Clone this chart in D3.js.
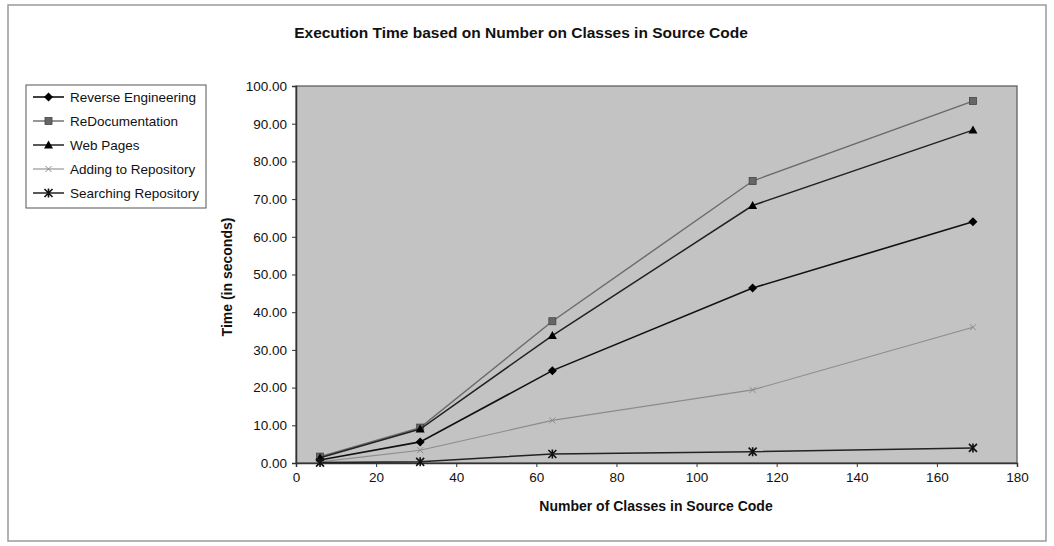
<!DOCTYPE html>
<html>
<head>
  <meta charset="utf-8">
  <title>Execution Time based on Number on Classes in Source Code</title>
  <script src="https://d3js.org/d3.v7.min.js"></script>
  <style>
    body { margin: 0; background: #fff; }
    text { font-family: "Liberation Sans", Arial, sans-serif; fill: #111; }
    .tick text { font-size: 13.5px; }
    .title { font-size: 15.5px; font-weight: bold; }
    .axis-title { font-size: 14px; font-weight: bold; }
    .legend text { font-size: 13.5px; }
  </style>
</head>
<body>
  <svg id="chart" width="1054" height="546"></svg>
  <script>
    // data
    const classes = [6, 31, 64, 114, 169];
    const reverseEngineering = [0.8, 5.6, 24.5, 46.4, 64.0];
    const reDocumentation = [1.7, 9.4, 37.6, 74.8, 96.0];
    const webPages = [1.4, 9.0, 33.8, 68.3, 88.3];
    const addingToRepository = [0.3, 3.4, 11.3, 19.4, 36.0];
    const searchingRepository = [0.1, 0.3, 2.4, 3.0, 4.0];
    const xTicks = [0, 20, 40, 60, 80, 100, 120, 140, 160, 180];
    const yTicks = [0, 10, 20, 30, 40, 50, 60, 70, 80, 90, 100];

    const series = [
      { name: "Reverse Engineering", values: reverseEngineering, color: "#111", width: 1.6, marker: "diamond" },
      { name: "ReDocumentation", values: reDocumentation, color: "#6a6a6a", width: 1.4, marker: "square" },
      { name: "Web Pages", values: webPages, color: "#222", width: 1.5, marker: "triangle" },
      { name: "Adding to Repository", values: addingToRepository, color: "#8c8c8c", width: 1.1, marker: "x" },
      { name: "Searching Repository", values: searchingRepository, color: "#222", width: 1.5, marker: "star" }
    ];

    const svg = d3.select("#chart");
    const plot = { left: 296, right: 1017, top: 86, bottom: 463 };

    // outer frame
    svg.append("rect")
      .attr("x", 8).attr("y", 5).attr("width", 1038).attr("height", 536)
      .attr("fill", "#fff").attr("stroke", "#9a9a9a").attr("stroke-width", 1.5);

    const x = d3.scaleLinear().domain([0, 180]).range([plot.left, plot.right]);
    const y = d3.scaleLinear().domain([0, 100]).range([plot.bottom, plot.top]);

    // plot area
    svg.append("rect")
      .attr("x", plot.left).attr("y", plot.top)
      .attr("width", plot.right - plot.left).attr("height", plot.bottom - plot.top)
      .attr("fill", "#c3c3c3").attr("stroke", "#555").attr("stroke-width", 1.2);

    // axes
    const yAxis = svg.append("g")
      .attr("transform", `translate(${plot.left},0)`)
      .call(d3.axisLeft(y).tickValues(yTicks).tickFormat(d3.format(".2f")).tickSize(4).tickPadding(5));
    const xAxis = svg.append("g")
      .attr("transform", `translate(0,${plot.bottom})`)
      .call(d3.axisBottom(x).tickValues(xTicks).tickSize(4).tickPadding(5));
    [xAxis, yAxis].forEach(a => {
      a.select(".domain").attr("stroke", "#333").attr("stroke-width", 1.5);
      a.selectAll(".tick line").attr("stroke", "#333");
      a.selectAll(".tick text").attr("fill", "#111");
    });

    // titles
    svg.append("text").attr("class", "title")
      .attr("x", 521).attr("y", 38).attr("text-anchor", "middle")
      .text("Execution Time based on Number on Classes in Source Code");
    svg.append("text").attr("class", "axis-title")
      .attr("x", 656).attr("y", 511).attr("text-anchor", "middle")
      .text("Number of Classes in Source Code");
    svg.append("text").attr("class", "axis-title")
      .attr("transform", "translate(232,277) rotate(-90)")
      .attr("text-anchor", "middle")
      .text("Time (in seconds)");

    // markers
    function drawMarker(g, type, cx, cy, color) {
      if (type === "diamond") {
        g.append("path").attr("d", `M${cx},${cy - 4.5}L${cx + 4.5},${cy}L${cx},${cy + 4.5}L${cx - 4.5},${cy}Z`)
          .attr("fill", "#000");
      } else if (type === "square") {
        g.append("rect").attr("x", cx - 3.5).attr("y", cy - 3.5).attr("width", 7).attr("height", 7)
          .attr("fill", "#666").attr("stroke", "#444").attr("stroke-width", 0.8);
      } else if (type === "triangle") {
        g.append("path").attr("d", `M${cx},${cy - 4.5}L${cx + 4.5},${cy + 3.5}L${cx - 4.5},${cy + 3.5}Z`)
          .attr("fill", "#000");
      } else if (type === "x") {
        g.append("path").attr("d", `M${cx - 3},${cy - 3}L${cx + 3},${cy + 3}M${cx - 3},${cy + 3}L${cx + 3},${cy - 3}`)
          .attr("stroke", color).attr("stroke-width", 1);
      } else if (type === "star") {
        g.append("path").attr("d", `M${cx - 4},${cy - 4}L${cx + 4},${cy + 4}M${cx - 4},${cy + 4}L${cx + 4},${cy - 4}M${cx},${cy - 4.5}L${cx},${cy + 4.5}`)
          .attr("stroke", "#111").attr("stroke-width", 1.6);
      }
    }

    const line = d3.line().x(d => x(d[0])).y(d => y(d[1]));
    const linesG = svg.append("g");
    series.forEach(s => {
      const pts = classes.map((c, i) => [c, s.values[i]]);
      linesG.append("path").attr("d", line(pts))
        .attr("fill", "none").attr("stroke", s.color).attr("stroke-width", s.width);
      const mg = linesG.append("g");
      pts.forEach(p => drawMarker(mg, s.marker, x(p[0]), y(p[1]), s.color));
    });

    // legend
    const legend = svg.append("g").attr("class", "legend");
    legend.append("rect")
      .attr("x", 26).attr("y", 85).attr("width", 180).attr("height", 123)
      .attr("fill", "#fff").attr("stroke", "#555").attr("stroke-width", 1);
    series.forEach((s, i) => {
      const ly = 97 + i * 24;
      legend.append("line").attr("x1", 33).attr("x2", 64).attr("y1", ly).attr("y2", ly)
        .attr("stroke", s.color).attr("stroke-width", s.width);
      drawMarker(legend, s.marker, 48.5, ly, s.color);
      legend.append("text").attr("x", 70).attr("y", ly).attr("dy", "0.35em").text(s.name);
    });
  </script>
</body>
</html>
